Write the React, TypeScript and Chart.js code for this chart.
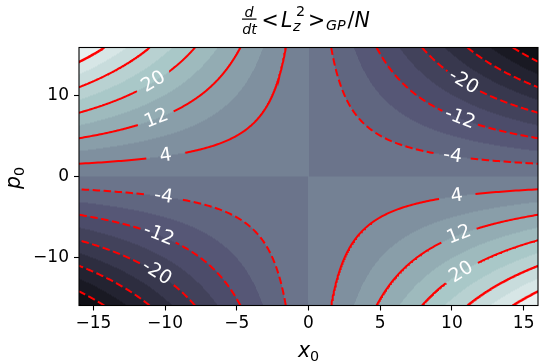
import React, { useEffect, useRef } from "react";
import { Chart, registerables } from "chart.js";

Chart.register(...registerables);

// ---- data ----
const X_MIN = -16;
const X_MAX = 16;
const P_MIN = -16;
const P_MAX = 16;
const X_TICKS = [-15, -10, -5, 0, 5, 10, 15];
const P_TICKS = [-10, 0, 10];
// field value f(x0, p0) = -FIELD_COEF * x0 * p0
const FIELD_COEF = 0.158;
const FILL_LEVELS = [-44, -40, -36, -32, -28, -24, -20, -16, -12, -8, -4, 0, 4, 8, 12, 16, 20, 24, 28, 32, 36, 40, 44];
const LINE_LEVELS = [-36, -28, -20, -12, -4, 4, 12, 20, 28, 36];
const LABEL_LEVELS = [20, 12, 4, -20, -12, -4, -4, -12, -20, 4, 12, 20];
const LABEL_X = [-10.8, -10.6, -9.95, 10.8, 10.55, 10.05, -10.1, -10.45, -10.6, 10.35, 10.5, 10.65];

// bone colormap segments
const BONE_R = [[0, 0], [0.746032, 0.652778], [1, 1]];
const BONE_G = [[0, 0], [0.365079, 0.319444], [0.746032, 0.777778], [1, 1]];
const BONE_B = [[0, 0], [0.365079, 0.444444], [1, 1]];

const FONT = "'DejaVu Sans', sans-serif";
const TICK_SIZE = 17;
const LABEL_SIZE = 19;
const BIG = 20.5;
const SMALL = 14.3;
const GAP_RADIUS = 19;

function seg(s: number[][], t: number) {
  for (let i = 0; i < s.length - 1; i++) {
    if (t <= s[i + 1][0]) {
      const u = (t - s[i][0]) / (s[i + 1][0] - s[i][0]);
      return s[i][1] + u * (s[i + 1][1] - s[i][1]);
    }
  }
  return s[s.length - 1][1];
}
function bone(t: number): [number, number, number] {
  const idx = Math.min(255, Math.max(0, Math.floor(t * 256)));
  const tt = idx / 255;
  return [seg(BONE_R, tt) * 255, seg(BONE_G, tt) * 255, seg(BONE_B, tt) * 255];
}
function field(x: number, p: number) {
  return -FIELD_COEF * x * p;
}
const fmt = (v: number) => (v < 0 ? "\u2212" + Math.abs(v) : String(v));

// contour branches: for level L, x*p = -L/FIELD_COEF
function branch(level: number, sx: number) {
  const C = -level / FIELD_COEF;
  const a = Math.log(Math.abs(C) / Math.max(Math.abs(P_MIN), P_MAX));
  const b = Math.log(X_MAX);
  const pts: { x: number; y: number }[] = [];
  const N = 160;
  for (let i = 0; i <= N; i++) {
    const ax = Math.exp(a + ((b - a) * i) / N);
    const x = sx * ax;
    pts.push({ x, y: C / x });
  }
  return pts;
}

const labelPoints = LABEL_LEVELS.map((L, i) => ({
  level: L,
  x: LABEL_X[i],
  y: -L / (FIELD_COEF * LABEL_X[i]),
}));

const fieldPlugin = {
  id: "fieldPlugin",
  beforeDatasetsDraw(chart: any) {
    const { ctx, chartArea: a, scales } = chart;
    const W = a.right - a.left;
    const H = a.bottom - a.top;
    const w = Math.round(W);
    const h = Math.round(H);
    const off = document.createElement("canvas");
    off.width = w;
    off.height = h;
    const octx = off.getContext("2d")!;
    const img = octx.createImageData(w, h);
    const n = FILL_LEVELS.length;
    const lo = FILL_LEVELS[0];
    const hi = FILL_LEVELS[n - 1];
    const cols = [] as [number, number, number][];
    for (let k = 0; k < n - 1; k++) {
      const mid = (FILL_LEVELS[k] + FILL_LEVELS[k + 1]) / 2;
      cols.push(bone((mid - lo) / (hi - lo)));
    }
    for (let j = 0; j < h; j++) {
      const p = scales.y.getValueForPixel(a.top + ((j + 0.5) * H) / h);
      for (let i = 0; i < w; i++) {
        const x = scales.x.getValueForPixel(a.left + ((i + 0.5) * W) / w);
        const f = field(x, p);
        let k = 0;
        while (k < n - 2 && f >= FILL_LEVELS[k + 1]) k++;
        const c = cols[k];
        const o = (j * w + i) * 4;
        img.data[o] = c[0];
        img.data[o + 1] = c[1];
        img.data[o + 2] = c[2];
        img.data[o + 3] = 255;
      }
    }
    octx.putImageData(img, 0, 0);
    ctx.save();
    ctx.drawImage(off, a.left, a.top, W, H);
    ctx.restore();
  },
  afterDatasetsDraw(chart: any) {
    const { ctx, scales } = chart;
    ctx.save();
    ctx.fillStyle = "#ffffff";
    ctx.font = `${LABEL_SIZE}px ${FONT}`;
    ctx.textAlign = "center";
    ctx.textBaseline = "middle";
    for (const lp of labelPoints) {
      const C = -lp.level / FIELD_COEF;
      const x1 = lp.x * 0.98, x2 = lp.x * 1.02;
      const px1 = scales.x.getPixelForValue(x1), py1 = scales.y.getPixelForValue(C / x1);
      const px2 = scales.x.getPixelForValue(x2), py2 = scales.y.getPixelForValue(C / x2);
      let ang = Math.atan2(py2 - py1, px2 - px1);
      if (ang > Math.PI / 2) ang -= Math.PI;
      if (ang < -Math.PI / 2) ang += Math.PI;
      const cx = scales.x.getPixelForValue(lp.x);
      const cy = scales.y.getPixelForValue(lp.y);
      ctx.save();
      ctx.translate(cx, cy);
      ctx.rotate(ang);
      ctx.fillText(String(lp.level), 0, 0);
      ctx.restore();
    }
    ctx.restore();
  },
  afterDraw(chart: any) {
    const { ctx, chartArea: a } = chart;
    ctx.save();
    // frame
    ctx.strokeStyle = "#000";
    ctx.lineWidth = 1.1;
    ctx.strokeRect(a.left, a.top, a.right - a.left, a.bottom - a.top);
    ctx.fillStyle = "#000";
    ctx.textBaseline = "alphabetic";
    const it = (s: number) => `italic ${s}px ${FONT}`;
    const rm = (s: number) => `${s}px ${FONT}`;
    // title pieces
    ctx.font = it(SMALL);
    ctx.textAlign = "center";
    ctx.fillText("d", 249, 16.5);
    ctx.fillText("dt", 249.5, 33.5);
    ctx.fillRect(242, 18.5, 14.5, 1.2);
    ctx.textAlign = "left";
    ctx.font = rm(BIG);
    ctx.fillText("<", 261.5, 27);
    ctx.font = it(BIG);
    ctx.fillText("L", 281, 27);
    ctx.font = rm(SMALL);
    ctx.fillText("2", 296, 16);
    ctx.font = it(SMALL);
    ctx.fillText("z", 293, 31);
    ctx.font = rm(BIG);
    ctx.fillText(">", 308, 27);
    ctx.font = it(SMALL);
    ctx.fillText("GP", 326, 30);
    ctx.font = rm(BIG);
    ctx.fillText("/", 347.5, 27);
    ctx.font = it(BIG);
    ctx.fillText("N", 354.5, 27);
    // x label
    const cxl = (a.left + a.right) / 2;
    ctx.font = it(BIG);
    const wx = ctx.measureText("x").width;
    ctx.font = rm(SMALL);
    const w0 = ctx.measureText("0").width;
    let sx = cxl - (wx + w0) / 2;
    ctx.font = it(BIG);
    ctx.fillText("x", sx, 357);
    ctx.font = rm(SMALL);
    ctx.fillText("0", sx + wx, 361);
    // y label
    ctx.save();
    ctx.translate(19.5, 178);
    ctx.rotate(-Math.PI / 2);
    ctx.font = it(BIG);
    const wp = ctx.measureText("p").width;
    sx = -(wp + w0) / 2;
    ctx.fillText("p", sx, 0);
    ctx.font = rm(SMALL);
    ctx.fillText("0", sx + wp, 4);
    ctx.restore();
    ctx.restore();
  },
};

function gapColor(ctx: any, level: number, color: string) {
  const chart = ctx.chart;
  if (!chart || !chart.scales || !chart.scales.x) return color;
  const mx = (ctx.p0.x + ctx.p1.x) / 2;
  const my = (ctx.p0.y + ctx.p1.y) / 2;
  for (const lp of labelPoints) {
    if (lp.level !== level) continue;
    const cx = chart.scales.x.getPixelForValue(lp.x);
    const cy = chart.scales.y.getPixelForValue(lp.y);
    if (Math.hypot(mx - cx, my - cy) < GAP_RADIUS) return "rgba(0,0,0,0)";
  }
  return color;
}

export default function App() {
  const ref = useRef<HTMLCanvasElement | null>(null);
  useEffect(() => {
    if (!ref.current) return;
    const datasets: any[] = [];
    for (const L of LINE_LEVELS) {
      for (const sx of [-1, 1]) {
        datasets.push({
          type: "line",
          data: branch(L, sx),
          showLine: true,
          borderColor: "#ff0000",
          borderWidth: 2,
          borderDash: L < 0 ? [7.5, 3.5] : [],
          pointRadius: 0,
          fill: false,
          tension: 0,
          clip: 0,
          segment: {
            borderColor: (c: any) => gapColor(c, L, "#ff0000"),
          },
        });
      }
    }
    const tickFont = { family: FONT, size: TICK_SIZE };
    const chart = new Chart(ref.current, {
      type: "scatter",
      data: { datasets },
      plugins: [fieldPlugin],
      options: {
        responsive: false,
        animation: false,
        events: [],
        layout: { padding: { top: 47.5, right: 7, left: 0, bottom: 0 } },
        plugins: { legend: { display: false }, tooltip: { enabled: false }, title: { display: false } },
        scales: {
          x: {
            type: "linear",
            min: X_MIN,
            max: X_MAX,
            afterBuildTicks: (s: any) => {
              s.ticks = X_TICKS.map((v) => ({ value: v }));
            },
            afterFit: (s: any) => {
              s.height = 57.5;
            },
            ticks: { font: tickFont, color: "#000", padding: 3, maxRotation: 0, autoSkip: false, callback: (v: any) => fmt(Number(v)) },
            grid: { display: true, drawOnChartArea: false, drawTicks: true, tickLength: 5, color: "#000", tickWidth: 1.1 },
            border: { display: false },
          },
          y: {
            type: "linear",
            min: P_MIN,
            max: P_MAX,
            afterBuildTicks: (s: any) => {
              s.ticks = P_TICKS.map((v) => ({ value: v }));
            },
            afterFit: (s: any) => {
              s.width = 79;
            },
            ticks: { font: tickFont, color: "#000", padding: 5, autoSkip: false, callback: (v: any) => fmt(Number(v)) },
            grid: { display: true, drawOnChartArea: false, drawTicks: true, tickLength: 5, color: "#000", tickWidth: 1.1 },
            border: { display: false },
          },
        },
      } as any,
    });
    return () => chart.destroy();
  }, []);
  return (
    <div style={{ position: "fixed", left: 0, top: 0, width: 545, height: 363, background: "#fff" }}>
      <canvas ref={ref} width={545} height={363} style={{ width: 545, height: 363, display: "block" }} />
    </div>
  );
}
